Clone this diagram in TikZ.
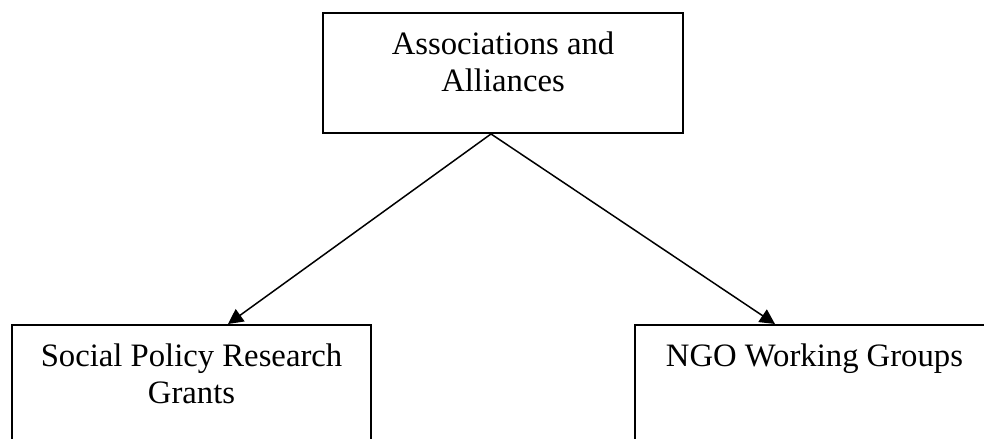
\documentclass[tikz,border=0pt]{standalone}
\usepackage{fontspec}
\setmainfont{Liberation Serif}
\usetikzlibrary{arrows.meta}

\begin{document}
\begin{tikzpicture}[
	x=0.367pt, y=0.367pt,
	box/.style={
		rectangle, draw=black, line width=0.75pt, inner sep=0pt,
		minimum width=131.8pt
	},
	boxtext/.style={
		anchor=north, inner sep=0pt, align=center, yshift=-7.2pt,
		font=\fontsize{12pt}{13.5pt}\selectfont
	},
	arrow/.style={-{Triangle[length=5.5pt, width=5.5pt]}, line width=0.55pt, black}
	]

	\clip (0,0) rectangle (984,439);

	\node[box, minimum width=132.1pt, minimum height=44pt,
		label={[boxtext]north:{Associations and\\Alliances}}] (assoc) at (503,366) {};

	\node[box, minimum height=58.7pt,
		label={[boxtext]north:{Social Policy Research\\Grants}}] (grants) at (191.5,34) {};

	\node[box, minimum height=58.7pt,
		label={[boxtext]north:{NGO Working Groups}}] (ngo) at (814.5,34) {};

	\draw[arrow] ([xshift=-4.4pt]assoc.south) -- ([xshift=13.4pt]grants.north);
	\draw[arrow] ([xshift=-4.4pt]assoc.south) -- ([xshift=-14.5pt]ngo.north);

\end{tikzpicture}
\end{document}
